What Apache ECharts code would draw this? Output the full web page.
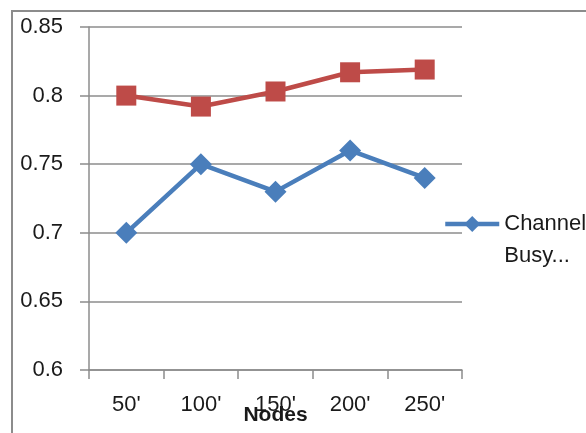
<!DOCTYPE html>
<html>
<head>
<meta charset="utf-8">
<script src="https://cdn.jsdelivr.net/npm/echarts@6/dist/echarts.min.js"></script>
<style>
  html, body { margin: 0; padding: 0; background: #fff; }
  #chart { width: 586px; height: 433px; }
</style>
</head>
<body>
<div id="chart"></div>
<script>
// Node counts on the x axis
const categories = ["50'", "100'", "150'", "200'", "250'"];
// Channel busy ratio (blue, diamonds)
const channelBusy = [0.70, 0.75, 0.73, 0.76, 0.74];
// Second series (red, squares)
const secondSeries = [0.800, 0.792, 0.803, 0.817, 0.819];
// Y axis range
const yMin = 0.6, yMax = 0.85, yStep = 0.05;

const FONT = 'Liberation Sans';
const chart = echarts.init(document.getElementById('chart'), null, { renderer: 'canvas' });

chart.setOption({
  animation: false,
  backgroundColor: '#ffffff',
  textStyle: { fontFamily: FONT },
  graphic: [{
    type: 'rect',
    shape: { x: 12, y: 11, width: 700, height: 600 },
    style: { fill: 'none', stroke: '#8c8c8c', lineWidth: 2 },
    silent: true
  }],
  grid: { left: 89, right: 124, top: 27, bottom: 63, outerBoundsMode: 'none', containLabel: false },
  legend: {
    data: ['Channel Busy'],
    left: 443,
    top: 176,
    padding: 0,
    orient: 'vertical',
    itemWidth: 54,
    itemHeight: 20,
    itemGap: 4,
    lineStyle: { width: 4.5 },
    // leading blank line keeps the first text line level with the icon
    formatter: () => '\nChannel\nBusy...',
    textStyle: {
      fontFamily: FONT, fontSize: 22, color: '#1a1a1a', lineHeight: 32
    }
  },
  xAxis: {
    type: 'category',
    data: categories,
    boundaryGap: true,
    name: 'Nodes',
    nameLocation: 'middle',
    nameGap: 35,
    nameMoveOverlap: false,
    nameTextStyle: { fontFamily: FONT, fontSize: 21, fontWeight: 'bold', color: '#1a1a1a' },
    axisLine: { lineStyle: { color: '#8c8c8c', width: 1.5 } },
    axisTick: { show: true, length: 9, alignWithLabel: false, lineStyle: { color: '#8c8c8c', width: 1.5 } },
    axisLabel: { fontFamily: FONT, fontSize: 22, color: '#1a1a1a', margin: 24 },
    splitLine: { show: false }
  },
  yAxis: {
    type: 'value',
    min: yMin, max: yMax, interval: yStep,
    axisLine: { show: true, lineStyle: { color: '#8c8c8c', width: 1.5 } },
    axisTick: { show: true, length: 9, lineStyle: { color: '#8c8c8c', width: 1.5 } },
    axisLabel: {
      fontFamily: FONT, fontSize: 22, color: '#1a1a1a', margin: 26,
      formatter: v => String(parseFloat(v.toFixed(2)))
    },
    splitLine: { show: true, lineStyle: { color: '#8c8c8c', width: 1.5 } }
  },
  series: [
    {
      name: 'Channel Busy',
      type: 'line',
      data: channelBusy,
      symbol: 'diamond',
      symbolSize: 22,
      lineStyle: { color: '#4a7ebb', width: 4.5 },
      itemStyle: { color: '#4a7ebb' },
      z: 3
    },
    {
      name: 'Series 2',
      type: 'line',
      data: secondSeries,
      symbol: 'rect',
      symbolSize: 20,
      lineStyle: { color: '#be4b48', width: 4.5 },
      itemStyle: { color: '#be4b48' },
      z: 2
    }
  ]
});
</script>
</body>
</html>
